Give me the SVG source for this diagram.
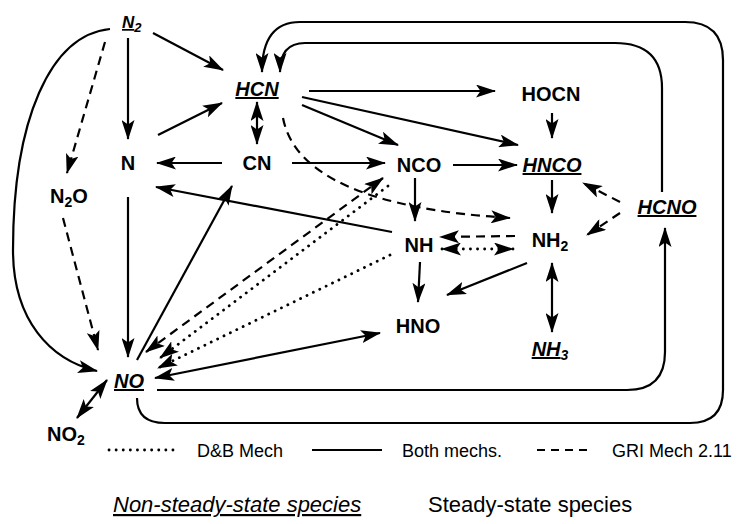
<svg xmlns="http://www.w3.org/2000/svg" width="737" height="524" viewBox="0 0 737 524">
  <defs>
    <marker id="ah" viewBox="0 0 20 13" refX="19" refY="6.5" markerWidth="20" markerHeight="13" markerUnits="userSpaceOnUse" orient="auto-start-reverse">
      <path d="M0,0 L20,6.5 L0,13 L4.5,6.5 z" fill="#000"/>
    </marker>
    <style>
      .s { fill: none; stroke: #000; stroke-width: 2.2; }
      .d { fill: none; stroke: #000; stroke-width: 2.2; stroke-dasharray: 9 6; }
      .t { fill: none; stroke: #000; stroke-width: 2.8; stroke-dasharray: 0.1 7; stroke-linecap: round; }
      .e { marker-end: url(#ah); }
      .b { marker-start: url(#ah); marker-end: url(#ah); }
      .lbl { font-family: "Liberation Sans", Arial, sans-serif; font-weight: bold; font-size: 20px; fill: #000; text-anchor: middle; }
      .ns { font-style: italic; }
      .u { text-decoration: underline; }
      .leg { font-family: "Liberation Sans", Arial, sans-serif; font-size: 18px; fill: #000; }
      .key { font-family: "Liberation Sans", Arial, sans-serif; font-size: 22px; fill: #000; }
    </style>
  </defs>
  <rect width="737" height="524" fill="#fff"/>

  <!-- reaction paths -->
  <g id="connectors">
    <!-- both mechanisms -->
    <path class="s e" d="M153,33 L223,70"/>
    <path class="s e" d="M128,38 L128,139"/>
    <path class="s e" d="M110,29 C50,35 13,120 13,250 C13,320 50,360 97,371"/>
    <path class="s e" d="M158,135 L222,103"/>
    <path class="s b" d="M257,102 L257,144"/>
    <path class="s e" d="M222,163 L157,163"/>
    <path class="s e" d="M292,163 L385,163"/>
    <path class="s e" d="M128,197 L128,357"/>
    <path class="s e" d="M392,232 L156,187"/>
    <path class="s e" d="M137,360 L232,186"/>
    <path class="s b" d="M380,333 L155,378"/>
    <path class="s e" d="M157,390 H627 Q665,390 665,352 V228"/>
    <path class="s e" d="M137,398 Q137,423 165,423 H690 Q723,423 723,390 V60 Q723,22 685,22 H300 Q262,22 262,72"/>
    <path class="s e" d="M662,192 V88 Q662,43 615,43 H305 Q280,43 280,72"/>
    <path class="s e" d="M309,91 L495,91"/>
    <path class="s e" d="M302,97 L518,145"/>
    <path class="s e" d="M302,105 L398,145"/>
    <path class="s e" d="M415,178 L415,221"/>
    <path class="s e" d="M453,165 L517,165"/>
    <path class="s e" d="M552,113 L552,138"/>
    <path class="s e" d="M552,180 L552,213"/>
    <path class="s e" d="M420,262 L418,302"/>
    <path class="s e" d="M527,263 L447,295"/>
    <path class="s b" d="M552,263 L552,332"/>
    <path class="s b" d="M107,380 L77,418"/>

    <!-- GRI Mech 2.11 only -->
    <path class="d e" d="M105,42 L67,173"/>
    <path class="d e" d="M63,218 L98,350"/>
    <path class="d e" d="M283,118 Q300,205 510,218"/>
    <path class="d b" d="M146,352 L383,178"/>
    <path class="d e" d="M620,202 L583,183"/>
    <path class="d e" d="M620,213 L587,235"/>
    <path class="d e" d="M515,236 L440,237"/>

    <!-- D&B mechanism only -->
    <path class="t b" d="M442,249 L513,249"/>
    <path class="t e" d="M390,255 L158,368"/>
    <path class="t e" d="M388,186 L160,358"/>
  </g>

  <!-- species -->
  <g id="n-N2"><text class="lbl ns" x="122" y="28" style="text-anchor:start;font-size:17px"><tspan class="u">N</tspan><tspan font-size="13" dy="4">2</tspan></text></g>
  <g id="n-HCN"><text class="lbl ns u" x="257" y="96">HCN</text></g>
  <g id="n-N"><text class="lbl" x="128" y="170">N</text></g>
  <g id="n-CN"><text class="lbl" x="257" y="170">CN</text></g>
  <g id="n-N2O"><text class="lbl" x="69" y="203">N<tspan font-size="14" dy="4">2</tspan><tspan dy="-4">O</tspan></text></g>
  <g id="n-HOCN"><text class="lbl" x="551" y="101">HOCN</text></g>
  <g id="n-NCO"><text class="lbl" x="419" y="172">NCO</text></g>
  <g id="n-HNCO"><text class="lbl ns u" x="552" y="172">HNCO</text></g>
  <g id="n-HCNO"><text class="lbl ns u" x="667" y="214">HCNO</text></g>
  <g id="n-NH"><text class="lbl" x="419" y="252">NH</text></g>
  <g id="n-NH2"><text class="lbl" x="550" y="247">NH<tspan font-size="14" dy="4">2</tspan></text></g>
  <g id="n-HNO"><text class="lbl" x="418" y="333">HNO</text></g>
  <g id="n-NH3"><text class="lbl ns" x="550" y="356"><tspan class="u">NH</tspan><tspan font-size="14" dy="4">3</tspan></text></g>
  <g id="n-NO"><text class="lbl ns u" x="129" y="388">NO</text></g>
  <g id="n-NO2"><text class="lbl" x="66" y="441">NO<tspan font-size="14" dy="4">2</tspan></text></g>

  <!-- line-style key -->
  <g id="legend">
    <path class="t" d="M109,450 H173"/>
    <text class="leg" x="197" y="457">D&amp;B Mech</text>
    <path class="s" d="M312,450 H382"/>
    <text class="leg" x="402" y="457">Both mechs.</text>
    <path class="d" d="M537,450 H587" style="stroke-dasharray:8 6"/>
    <text class="leg" x="612" y="457">GRI Mech 2.11</text>
    <text class="key" x="113" y="512" font-style="italic" text-decoration="underline">Non-steady-state species</text>
    <text class="key" x="428" y="512">Steady-state species</text>
  </g>
</svg>
